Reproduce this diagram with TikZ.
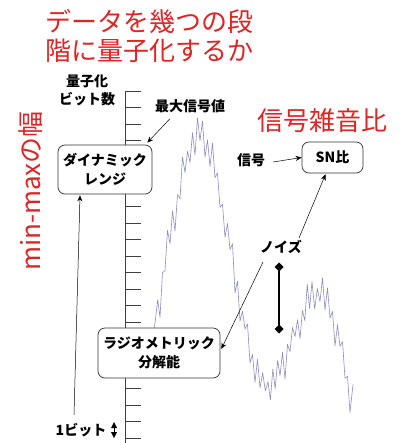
\documentclass[tikz,border=0pt]{standalone}
\usepackage{fontspec}
\setmainfont{Noto Sans CJK JP}
\usetikzlibrary{arrows.meta,calc}
\definecolor{tred}{RGB}{222,36,36}
\definecolor{wavec}{RGB}{140,140,188}
\newcount\wvi
\begin{document}
\begin{tikzpicture}[x=1pt,y=-1pt,
  redtxt/.style={text=tred,font=\fontsize{26}{29}\selectfont,inner sep=0,align=left},
  lbl/.style={font=\bfseries\fontsize{14}{18}\selectfont,inner sep=0,align=center},
  rbox/.style={draw=black!80,line width=0.7pt,rounded corners=7pt,fill=white,align=center,font=\bfseries\fontsize{14}{18.5}\selectfont,inner sep=0},
  conn/.style={line width=0.5pt,-{Stealth[length=6pt,width=5pt]}},
  tickln/.style={line width=0.6pt,black!75},
  wave/.style={wavec,line width=0.6pt,line join=round}]
\useasboundingbox (0,0) rectangle (402,443);
% red titles
\node[redtxt] (title) at (149,36) {データを幾つの段\\階に量子化するか};
\node[redtxt] (snrt) at (322,121) {信号雑音比};
\node[redtxt,rotate=90] (minmax) at (31,191) {min-maxの幅};
% scale
\draw[tickln] (125,443) -- (125,91);
\foreach \i in {0,...,21}{
  \draw[tickln] (125,{91+\i*16.52}) -- (141,{91+\i*16.52});
}
% waveform
\pgfmathsetseed{23}
\def\wavepts{}
\foreach \xa/\ya/\xb/\yb in {153/330/160/295, 160/295/170/238, 170/238/180/185, 180/185/190/148, 190/148/200/132, 200/132/210/152, 210/152/220/195, 220/195/230/250, 230/250/240/305, 240/305/250/350, 250/350/260/382, 260/382/268/390, 268/390/280/368, 280/368/290/345, 290/345/300/318, 300/318/312/297, 312/297/320/292, 320/292/330/310, 330/310/340/345, 340/345/350/392, 350/392/353/402}{
  \pgfmathtruncatemacro\nn{max(1,round((\xb-\xa)/2.4))}
  \foreach \k in {1,...,\nn}{
    \global\advance\wvi by 1
    \pgfmathsetmacro\xx{\xa+(\xb-\xa)*\k/\nn}
    \pgfmathsetmacro\bb{\ya+(\yb-\ya)*\k/\nn+6*sin(\xx*23)}
    \ifodd\wvi \def\sg{1}\else\def\sg{-1}\fi
    \pgfmathsetmacro\yy{\bb+\sg*(5+12*rnd)}
    \xdef\wavepts{\wavepts (\xx,\yy)}
  }
}
\edef\drawwave{\noexpand\draw[wave] (153,335) -- plot coordinates {\wavepts};}
\drawwave
% labels
\node[lbl] (qbits) at (87,90) {量子化\\ビット数};
\node[lbl] (maxsig) at (190,106) {最大信号値};
\node[lbl] (sig) at (251,160) {信号};
\node[lbl] (noise) at (281,247) {ノイズ};
\node[lbl] (onebit) at (81,430) {1ビット};
% boxes
\node[rbox,minimum width=94pt,minimum height=49pt] (dr) at (105,169.5) {ダイナミック\\レンジ};
\node[rbox,minimum width=61pt,minimum height=31pt] (sn) at (332.5,157.5) {SN比};
\node[rbox,minimum width=122pt,minimum height=50pt] (rm) at (159,353) {ラジオメトリック\\分解能};
% noise bar
\coordinate (nb1) at (279,267);
\coordinate (nb2) at (279,329);
\draw[line width=2.2pt] (nb1) -- (nb2);
\fill (nb1) ++(0,-4.5) -- ++(4.5,4.5) -- ++(-4.5,4.5) -- ++(-4.5,-4.5) -- cycle;
\fill (nb2) ++(0,-4.5) -- ++(4.5,4.5) -- ++(-4.5,4.5) -- ++(-4.5,-4.5) -- cycle;
% updown symbol
\coordinate (ud) at (114,430);
\fill ($(ud)+(0,-8)$) -- ++(3,6) -- ++(-6,0) -- cycle;
\fill ($(ud)+(0,8)$) -- ++(3,-6) -- ++(-6,0) -- cycle;
\draw[line width=0.6pt] ($(ud)+(0,-3)$) -- ($(ud)+(0,3)$);
% connectors
\draw[conn] ($(maxsig.south west)+(15,6)$) -- ($(dr.north east)+(-5,-2)$);
\draw[conn] ($(onebit.north)+(-7,-8)$) -- ($(dr.south)+(-25,1)$);
\draw[conn] ($(sig.east)+(8,2)$) -- (sn.west);
\draw[conn] ($(noise.north east)+(-3,-2)$) -- ($(sn.south)+(-7,1)$);
\draw[conn] ($(noise.south west)+(3,8)$) -- ($(rm.east)+(1,-4)$);
\end{tikzpicture}
\end{document}
